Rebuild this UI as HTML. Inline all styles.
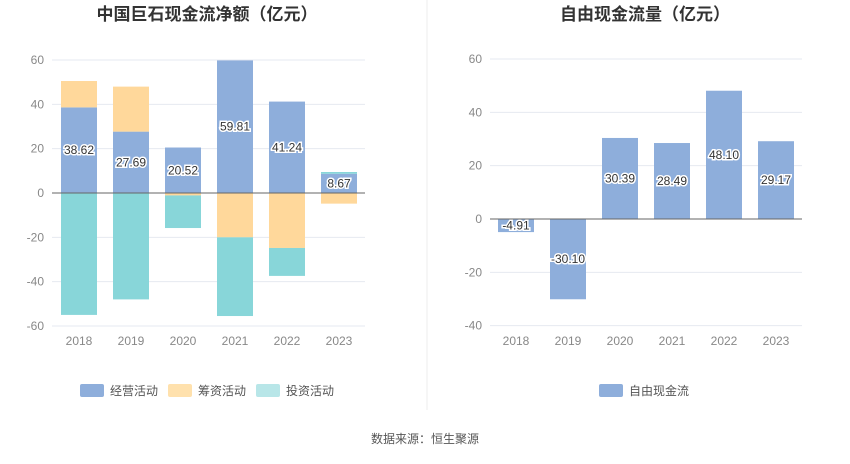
<!DOCTYPE html>
<html><head><meta charset="utf-8"><style>
body{margin:0;background:#fff;font-family:"Liberation Sans","Noto Sans CJK SC",sans-serif}
svg text{font-family:"Liberation Sans","Noto Sans CJK SC",sans-serif}
</style></head><body>
<svg id="c" width="850" height="459">
<text x="207" y="20" text-anchor="middle" font-size="17" font-weight="bold" fill="#333">中国巨石现金流净额（亿元）</text>
<text x="645" y="20" text-anchor="middle" font-size="17" font-weight="bold" fill="#333">自由现金流量（亿元）</text>
<line x1="427" y1="0" x2="427" y2="410" stroke="#eee"/>
<g id="L"></g><g id="R"></g>
<rect x="80" y="384" width="24" height="13" rx="2" fill="#8eaedb"/>
<text x="110" y="395" font-size="12" fill="#555">经营活动</text>
<rect x="168" y="384" width="24" height="13" rx="2" fill="#ffe1ad"/>
<text x="198" y="395" font-size="12" fill="#555">筹资活动</text>
<rect x="256" y="384" width="24" height="13" rx="2" fill="#b8e6e8"/>
<text x="286" y="395" font-size="12" fill="#555">投资活动</text>
<rect x="599" y="384" width="24" height="13" rx="2" fill="#8eaedb"/>
<text x="629" y="395" font-size="12" fill="#555">自由现金流</text>
<text x="425" y="443" text-anchor="middle" font-size="12" fill="#555">数据来源：恒生聚源</text>
</svg>
<script>
const years=["2018","2019","2020","2021","2022","2023"];
const operating=[38.62,27.69,20.52,59.81,41.24,8.67];
const financing=[11.9,20.3,-1.1,-20,-24.8,-4.8];
const investing=[-55,-48,-14.7,-35.5,-12.6,0.8];
const leftTicks=[60,40,20,0,-20,-40,-60];
const fcf=[-4.91,-30.10,30.39,28.49,48.10,29.17];
const rightTicks=[60,40,20,0,-20,-40];
const NS="http://www.w3.org/2000/svg";
function mk(p,t,a){const e=document.createElementNS(NS,t);for(const k in a)e.setAttribute(k,a[k]);p.appendChild(e);return e;}
function label(g,x,y,txt){
 const t=mk(g,'text',{x:x,y:y+4,'text-anchor':'middle','font-size':12,fill:'#333',stroke:'#fff','stroke-width':3,'paint-order':'stroke'});
 t.textContent=txt;
 
 
}
function axis(g,x0,x1,yf,ticks){
 ticks.forEach(v=>{
  const l=mk(g,'line',{x1:x0,x2:x1,y1:yf(v),y2:yf(v),stroke:v===0?'#666':'#e6e9f0'});
  
  
  const t=mk(g,'text',{x:x0-8,y:yf(v)+4,'text-anchor':'end','font-size':12,fill:'#888'});
  t.textContent=v;
  
  
 });
}
// left
const L=document.getElementById('L');
const ly=v=>193-v*133/60, lx=i=>79+i*52;
axis(L,52,365,ly,leftTicks);
years.forEach((y,i)=>{
 const t=mk(L,'text',{x:lx(i),y:345,'text-anchor':'middle','font-size':12,fill:'#888'});t.textContent=y;
 
 
 let pos=0,neg=0;
 [[operating,'#8eaedb','bar-operating'],[financing,'#ffd89b','bar-financing'],[investing,'#88d6d9','bar-investing']].forEach(([arr,c,n])=>{
  const v=arr[i];let a,b;
  if(v>=0){a=pos;b=pos+v;pos=b;}else{a=neg;b=neg+v;neg=b;}
  const r=mk(L,'rect',{x:lx(i)-18,width:36,y:Math.min(ly(a),ly(b)),height:Math.abs(ly(a)-ly(b)),fill:c});
  
  
 });
 label(L,lx(i),ly(operating[i]/2),operating[i].toFixed(2));
});
mk(L,'line',{x1:52,x2:365,y1:ly(0),y2:ly(0),stroke:'#666'});
// right
const R=document.getElementById('R');
const ry=v=>219-v*160/60, rx=i=>516+i*52;
axis(R,490,802,ry,rightTicks);
years.forEach((y,i)=>{
 const t=mk(R,'text',{x:rx(i),y:345,'text-anchor':'middle','font-size':12,fill:'#888'});t.textContent=y;
 
 
 const v=fcf[i];
 const r=mk(R,'rect',{x:rx(i)-18,width:36,y:Math.min(ry(0),ry(v)),height:Math.abs(ry(v)-ry(0)),fill:'#8eaedb'});
 
 
 label(R,rx(i),ry(v/2),v.toFixed(2));
});
mk(R,'line',{x1:490,x2:802,y1:ry(0),y2:ry(0),stroke:'#666'});
</script>
</body></html>
